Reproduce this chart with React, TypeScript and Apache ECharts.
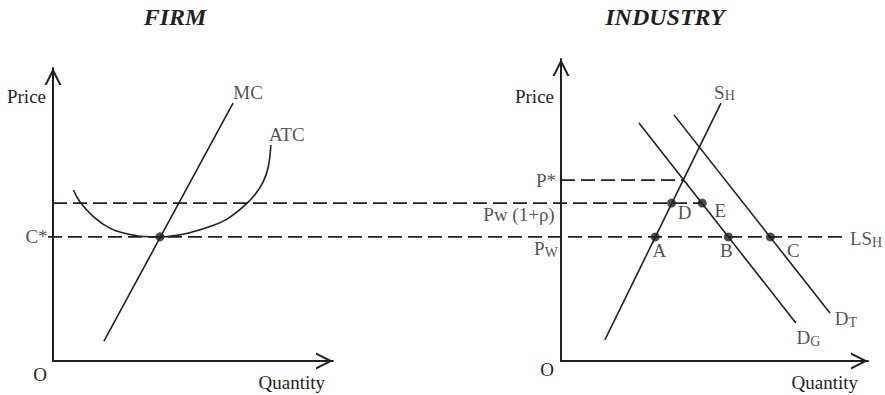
import React, { useEffect, useRef } from 'react';
import * as echarts from 'echarts';

// ---------- FIRM panel (Quantity 0–100, Price 0–97) ----------
const MC_CURVE: number[][] = [[18.2, 6.6], [64.3, 85.4]];
const ATC_CURVE: number[][] = [
  [7.3, 56.6], [9.6, 52.7], [14.4, 47.8], [20.4, 43.9], [26.3, 42.1], [32.3, 41.2], [38.2, 41.1],
  [44.2, 41.6], [50.1, 42.8], [56.1, 44.5], [62.0, 46.9], [68.0, 51.1], [72.1, 55.0],
  [75.1, 59.4], [76.9, 64.3], [77.8, 71.5],
];
const FIRM_OPTIMUM: number[] = [38.2, 41.1];

// ---------- INDUSTRY panel (Quantity 0–100, Price 0–100) ----------
const SUPPLY_SH: number[][] = [[14.3, 7.0], [52.1, 85.4]];
const DEMAND_DG: number[][] = [[25.4, 78.8], [76.5, 12.6]];
const DEMAND_DT: number[][] = [[36.8, 81.5], [87.6, 15.9]];
const PRICE_STAR = 59.9;
const PRICE_PW_RHO = 52.3;
const PRICE_PW = 41.1;
const P_STAR_Q = 40.0; // S_H meets D_G
const E_Q = 46.0;
const LSH_END_Q = 93.5;
const POINT_NAMES = ['A', 'B', 'C', 'D', 'E'];
const POINT_Q = [30.7, 54.5, 68.2, 36.0, 46.0];
const POINT_P = [41.1, 41.1, 41.1, 52.3, 52.3];

const INK = '#231f20';
const FONT = "'Liberation Serif', 'Times New Roman', serif";
const CHEVRON = 'path://M5,0 L10,10 L8.7,10 L5,2.6 L1.3,10 L0,10 Z';

const FIRM_GRID = { left: 53, top: 68, width: 280, height: 293 };
const IND_GRID = { left: 561, top: 59, width: 307, height: 302 };

const rich = {
  m: { fontSize: 19, fontFamily: FONT, color: INK },
  s: { fontSize: 14, fontFamily: FONT, color: INK, padding: [7, 0, 0, 0] },
};

function labelItem(value: number[], text: string, offset: number[]) {
  return {
    value,
    label: {
      show: true,
      position: 'inside',
      formatter: text,
      offset,
      rich,
      fontSize: 19,
      fontFamily: FONT,
      color: INK,
    },
  };
}

function xAxisCfg(gridIndex: number, nameGap: number) {
  return {
    type: 'value',
    gridIndex,
    min: 0,
    max: 100,
    name: 'Quantity',
    nameLocation: 'end',
    nameGap,
    nameTextStyle: {
      fontFamily: FONT, fontSize: 19, color: INK, align: 'right', verticalAlign: 'top', padding: [12, 0, 0, 0],
    },
    axisLine: {
      show: true,
      symbol: ['none', CHEVRON],
      symbolSize: [17, 17],
      symbolOffset: [0, -8.5],
      lineStyle: { color: INK, width: 2 },
    },
    axisTick: { show: false },
    axisLabel: { show: false },
    splitLine: { show: false },
  };
}

function yAxisCfg(gridIndex: number, max: number, nameGap: number) {
  return {
    type: 'value',
    gridIndex,
    min: 0,
    max,
    name: 'Price',
    nameLocation: 'end',
    nameGap,
    nameTextStyle: {
      fontFamily: FONT, fontSize: 19, color: INK, align: 'right', verticalAlign: 'middle', padding: [0, 7, 0, 0],
    },
    axisLine: {
      show: true,
      symbol: ['none', CHEVRON],
      symbolSize: [17, 17],
      symbolOffset: [0, -8.5],
      lineStyle: { color: INK, width: 2 },
    },
    axisTick: { show: false },
    axisLabel: { show: false },
    splitLine: { show: false },
  };
}

const hiddenAxis = (gridIndex: number) => ({
  type: 'value', gridIndex, min: 0, max: 100, show: false,
  axisLine: { show: false }, axisTick: { show: false }, axisLabel: { show: false }, splitLine: { show: false },
});

export default function App() {
  const ref = useRef<HTMLDivElement>(null);

  useEffect(() => {
    if (!ref.current) return;
    const chart = echarts.init(ref.current, undefined, { renderer: 'svg' });

    // A hidden "bridge" grid spans from just left of the firm's price axis to the end of LS_H,
    // sharing the industry's price scale, so the common price levels run across both panels.
    const bridgeLeft = FIRM_GRID.left - 5;
    const bridgeRight = IND_GRID.left + (LSH_END_Q / 100) * IND_GRID.width;
    const BRIDGE_GRID = { left: bridgeLeft, top: IND_GRID.top, width: bridgeRight - bridgeLeft, height: IND_GRID.height };
    const indQToBridge = (q: number) =>
      ((IND_GRID.left + (q / 100) * IND_GRID.width - bridgeLeft) / BRIDGE_GRID.width) * 100;
    const firmAxisInBridge = ((FIRM_GRID.left - bridgeLeft) / BRIDGE_GRID.width) * 100;

    const solid = { color: INK, width: 1.6 };
    const dashed = { color: INK, width: 1.8, type: [14, 6] };

    const lineSeries = (data: number[][], xi: number, style: any, smooth: any = false) => ({
      type: 'line',
      xAxisIndex: xi,
      yAxisIndex: xi,
      data,
      symbol: 'none',
      smooth,
      clip: false,
      silent: true,
      lineStyle: style,
    });

    const option: any = {
      animation: false,
      backgroundColor: '#ffffff',
      grid: [
        { ...FIRM_GRID, containLabel: false },
        { ...IND_GRID, containLabel: false },
        { ...BRIDGE_GRID, containLabel: false },
      ],
      xAxis: [xAxisCfg(0, -8), xAxisCfg(1, -10), hiddenAxis(2)],
      yAxis: [yAxisCfg(0, 97, -28), yAxisCfg(1, 100, -37), hiddenAxis(2)],
      graphic: [
        { type: 'text', x: 175, y: 17, style: { text: 'FIRM', fontSize: 24, fontWeight: 'bold', fontStyle: 'italic', fontFamily: FONT, fill: INK, align: 'center', verticalAlign: 'middle' } },
        { type: 'text', x: 665, y: 17, style: { text: 'INDUSTRY', fontSize: 24, fontWeight: 'bold', fontStyle: 'italic', fontFamily: FONT, fill: INK, align: 'center', verticalAlign: 'middle' } },
        { type: 'text', x: 40, y: 374, style: { text: 'O', fontSize: 19, fontFamily: FONT, fill: INK, align: 'center', verticalAlign: 'middle' } },
        { type: 'text', x: 547, y: 369, style: { text: 'O', fontSize: 19, fontFamily: FONT, fill: INK, align: 'center', verticalAlign: 'middle' } },
      ],
      series: [
        // long dashed price levels across both panels
        lineSeries([[firmAxisInBridge, PRICE_PW_RHO], [indQToBridge(E_Q), PRICE_PW_RHO]], 2, dashed),
        lineSeries([[0, PRICE_PW], [100, PRICE_PW]], 2, dashed),
        // firm
        lineSeries(MC_CURVE, 0, solid),
        lineSeries(ATC_CURVE, 0, solid, 0.4),
        {
          type: 'scatter', xAxisIndex: 0, yAxisIndex: 0, silent: true, clip: false,
          symbolSize: 9, itemStyle: { color: INK }, data: [FIRM_OPTIMUM],
        },
        {
          type: 'scatter', xAxisIndex: 0, yAxisIndex: 0, silent: true, clip: false, symbolSize: 0,
          data: [
            labelItem(MC_CURVE[MC_CURVE.length - 1], '{m|MC}', [15, -11]),
            labelItem(ATC_CURVE[ATC_CURVE.length - 1], '{m|ATC}', [16, -11]),
            labelItem([0, PRICE_PW], '{m|C*}', [-16.5, 0]),
          ],
        },
        // industry
        lineSeries(SUPPLY_SH, 1, solid),
        lineSeries(DEMAND_DG, 1, solid),
        lineSeries(DEMAND_DT, 1, solid),
        lineSeries([[0, PRICE_STAR], [P_STAR_Q, PRICE_STAR]], 1, dashed),
        {
          type: 'scatter', xAxisIndex: 1, yAxisIndex: 1, silent: true, clip: false,
          symbolSize: 9, itemStyle: { color: INK },
          data: POINT_NAMES.map((n, i) => {
            const offs: Record<string, number[]> = { A: [4, 14], B: [-2, 14], C: [23, 14], D: [13, 9], E: [18, 7] };
            return {
              value: [POINT_Q[i], POINT_P[i]],
              label: { show: true, position: 'inside', formatter: n, offset: offs[n], fontSize: 19, fontFamily: FONT, color: INK },
            };
          }),
        },
        {
          type: 'scatter', xAxisIndex: 1, yAxisIndex: 1, silent: true, clip: false, symbolSize: 0,
          data: [
            labelItem(SUPPLY_SH[SUPPLY_SH.length - 1], '{m|S}{s|H}', [3.5, -11]),
            labelItem(DEMAND_DG[DEMAND_DG.length - 1], '{m|D}{s|G}', [12.5, 15]),
            labelItem(DEMAND_DT[DEMAND_DT.length - 1], '{m|D}{s|T}', [16, 6]),
            labelItem([LSH_END_Q, PRICE_PW], '{m|LS}{s|H}', [18, 2]),
            labelItem([0, PRICE_STAR], '{m|P*}', [-15, 0]),
            labelItem([0, PRICE_PW_RHO], '{m|Pw (1+ρ)}', [-42, 11]),
            labelItem([0, PRICE_PW], '{m|P}{s|W}', [-15, 12]),
          ],
        },
      ],
    };

    chart.setOption(option);
    return () => chart.dispose();
  }, []);

  return (
    <div
      ref={ref}
      style={{ position: 'fixed', left: 0, top: 0, width: 885, height: 395, background: '#fff' }}
    />
  );
}
